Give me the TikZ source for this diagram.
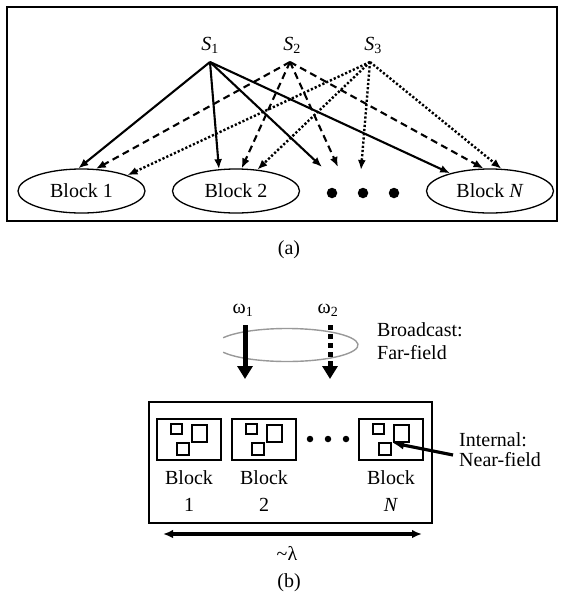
\documentclass[tikz,border=0pt]{standalone}
\usepackage{fontspec}
\setmainfont{Liberation Serif}
\usetikzlibrary{arrows.meta,shapes.geometric}
\begin{document}
\begin{tikzpicture}[x=1pt,y=-1pt,
  every node/.style={font=\fontsize{20}{24}\selectfont, inner sep=0pt},
  blk/.style={ellipse, draw, line width=1.3pt, minimum width=127pt, minimum height=44pt},
  link/.style={line width=2.1pt, -{Latex[length=10pt,width=8pt]}},
  dsh/.style={link, dash pattern=on 7pt off 4.5pt},
  dtt/.style={link, line width=2.4pt, dash pattern=on 2.2pt off 2pt},
  bigdot/.style={circle, fill, minimum size=10.5pt},
  smalldot/.style={circle, fill, minimum size=6.5pt},
  cell/.style={draw, line width=2.5pt, minimum width=64pt, minimum height=41pt},
  sq/.style={draw, line width=2pt},
  widearrow/.style={line width=5pt, -{Triangle[length=13pt,width=15pt]}},
  frame/.style={draw, line width=1.4pt}
]
\useasboundingbox (0,0) rectangle (563,595);

% ---------- (a) ----------
\node[frame, minimum width=550pt, minimum height=214pt] (frameA) at (282,114) {};
\node (s1) at (210,45) {\textit{S}\textsubscript{1}};
\node (s2) at (292,45) {\textit{S}\textsubscript{2}};
\node (s3) at (373,45) {\textit{S}\textsubscript{3}};
\coordinate (o1) at (210,62);
\coordinate (o2) at (290,62);
\coordinate (o3) at (370,62);

\node[blk] (b1) at (81.5,191) {Block 1};
\node[blk] (b2) at (236,191) {Block 2};
\node[blk] (bn) at (490,191) {Block \textit{N}};
\node[bigdot] (da1) at (332,193) {};
\node[bigdot] (da2) at (363,193) {};
\node[bigdot] (da3) at (394,193) {};
\coordinate (d1) at (322,167);
\coordinate (d2) at (338,167);
\coordinate (d3) at (361,170);

\draw[link] (o1) -- (b1.98);
\draw[link] (o1) -- (b2.128);
\draw[link] (o1) -- (d1);
\draw[link] (o1) -- (bn.156);
\draw[dsh] (o2) -- (b1.57);
\draw[dsh] (o2) -- (b2.76);
\draw[dsh] (o2) -- (d2);
\draw[dsh] (o2) -- (bn.106);
\draw[dtt] (o3) -- (b1.19);
\draw[dtt] (o3) -- (b2.45);
\draw[dtt] (o3) -- (d3);
\draw[dtt] (o3) -- (bn.63);

\node (capA) at (289,250) {(a)};

% ---------- (b) ----------
\node (w1) at (243,310) {ω\textsubscript{1}};
\node (w2) at (328,310) {ω\textsubscript{2}};
\draw[gray!80, line width=1.4pt] (287,345) ++(154:71 and 16.5)
  arc[start angle=154, end angle=-154, x radius=71, y radius=16.5];
\coordinate (a1s) at (245,325);
\coordinate (a1e) at (245,379);
\coordinate (a2s) at (330,325);
\coordinate (a2e) at (330,379);
\draw[widearrow] (a1s) -- (a1e);
\draw[widearrow, dash pattern=on 5pt off 4pt] (a2s) -- (a2e);
\node[anchor=west, align=left, font=\fontsize{20}{23}\selectfont] (bc) at (377,341.5) {Broadcast:\\Far-field};

\node[frame, minimum width=283pt, minimum height=121pt] (outerB) at (290.5,462.5) {};
\foreach \x/\n/\t in {157/1/1, 232/2/2, 359/N/\textit{N}} {
  \node[cell] (bb\n) at (\x+32,439.5) {};
  \node[sq, minimum width=11pt, minimum height=10pt] (sqa\n) at (\x+19.5,429) {};
  \node[sq, minimum width=15pt, minimum height=17pt] (sqb\n) at (\x+42.5,433.5) {};
  \node[sq, minimum width=12pt, minimum height=12pt] (sqc\n) at (\x+26,449) {};
  \node[align=center, font=\fontsize{20}{27}\selectfont] (lab\n) at (\x+32,491) {Block\\\t};
}
\node[smalldot] (db1) at (310,439) {};
\node[smalldot] (db2) at (328,439) {};
\node[smalldot] (db3) at (346,439) {};

\node[anchor=west, align=left, font=\fontsize{20}{20}\selectfont] (inl) at (459,450) {Internal:\\Near-field};
\coordinate (ia) at (453,455);
\draw[line width=3.2pt, -{Latex[length=11pt,width=9pt]}] (ia) -- (sqbN.south west);

\coordinate (ll) at (163,534);
\coordinate (lr) at (422,534);
\draw[line width=3.6pt, {Latex[length=10pt,width=8.5pt]}-{Latex[length=10pt,width=8.5pt]}] (ll) -- (lr);
\node (lam) at (287,553) {\textasciitilde λ};
\node (capB) at (289,583) {(b)};
\end{tikzpicture}
\end{document}
